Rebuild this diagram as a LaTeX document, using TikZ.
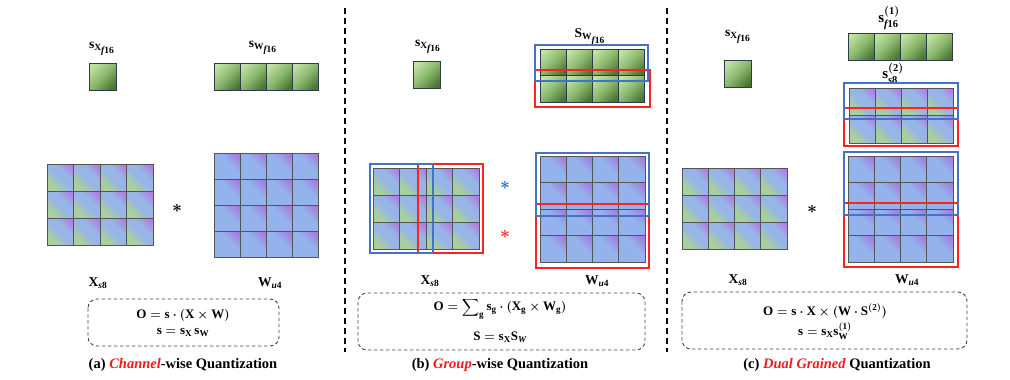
\documentclass[tikz,border=0pt]{standalone}
\usepackage{amsmath,bm}
\usepackage{fontspec}
\setmainfont{Liberation Serif}
\definecolor{gL}{HTML}{C2E2A8}
\definecolor{gM}{HTML}{8CB86E}
\definecolor{gD}{HTML}{4A7532}
\definecolor{xG}{HTML}{A9CF9C}
\definecolor{xB}{HTML}{97B5E6}
\definecolor{xP}{HTML}{B27CE6}
\definecolor{wB}{HTML}{94B2EC}
\definecolor{wP}{HTML}{A57BE0}
\definecolor{bdr}{HTML}{555555}
\definecolor{gbdr}{HTML}{2E3B49}
\definecolor{qblue}{HTML}{4472C4}
\definecolor{qred}{HTML}{FF2222}
\definecolor{boxc}{HTML}{3C4660}
\definecolor{capred}{HTML}{EE1C1C}
\definecolor{starblue}{HTML}{1F6FBF}
\pgfdeclarehorizontalshading{gshade}{100bp}{color(0bp)=(gL); color(22bp)=(gL); color(50bp)=(gM); color(78bp)=(gD); color(100bp)=(gD)}
\pgfdeclarehorizontalshading{xshade}{100bp}{color(0bp)=(xG); color(30bp)=(xG); color(48bp)=(xB); color(62bp)=(xB); color(80bp)=(xP); color(100bp)=(xP)}
\pgfdeclarehorizontalshading{wshade}{100bp}{color(0bp)=(wB); color(58bp)=(wB); color(80bp)=(wP); color(100bp)=(wP)}
\newcommand\B[1]{\text{\normalfont\bfseries #1}}
\newcommand\BI[1]{\text{\normalfont\bfseries\itshape #1}}
\newcommand\sub[1]{{\scriptstyle #1}}
\tikzset{
  gcell/.style={draw=gbdr,line width=0.9pt,shading=gshade,shading angle=-45},
  xcell/.style={draw=bdr,line width=0.9pt,shading=xshade,shading angle=45},
  wcell/.style={draw=bdr,line width=0.9pt,shading=wshade,shading angle=45},
  bluebox/.style={draw=qblue,line width=1.4pt},
  redbox/.style={draw=qred,line width=1.8pt},
  fbox/.style={draw=boxc,dashed,dash pattern=on 3.5pt off 2.5pt,line width=0.9pt,rounded corners=9pt},
  sep/.style={draw=black,line width=1.3pt,dash pattern=on 6pt off 4pt},
  lbl/.style={inner sep=0pt,font=\fontsize{13.5}{15}\selectfont\boldmath},
  biglbl/.style={inner sep=0pt,font=\fontsize{15}{17}\selectfont\boldmath},
  fml/.style={inner sep=0pt,align=center,font=\fontsize{13}{16}\selectfont\boldmath},
  captext/.style={inner sep=0pt,font=\fontsize{14.5}{17}\selectfont\bfseries},
  starlbl/.style={inner sep=0pt,font=\fontsize{18}{20}\selectfont\boldmath}
}
% #1 x0, #2 y0, #3 cols, #4 rows, #5 w, #6 h, #7 style
\newcommand\mgrid[7]{%
  \foreach \ii in {1,...,#3}{\foreach \jj in {1,...,#4}{%
    \path[#7] ({#1+(\ii-1)*#5},{#2+(\jj-1)*#6}) rectangle ++(#5,#6);
  }}}
\begin{document}
\begin{tikzpicture}[x=1pt,y=-1pt]
\useasboundingbox (0,0) rectangle (1010,380);
% separators
\coordinate (s1t) at (345,8); \coordinate (s1b) at (345,352);
\coordinate (s2t) at (667,8); \coordinate (s2b) at (667,352);
\draw[sep] (s1t) -- (s1b);
\draw[sep] (s2t) -- (s2b);

% ===== (a) =====
\node[lbl] (sxa) at (102,49) {$\B{s}_{\B{X}_{\sub{\BI{f}\B{16}}}}$};
\node[lbl] (swa) at (263,48) {$\B{s}_{\B{W}_{\sub{\BI{f}\B{16}}}}$};
\mgrid{89}{63}{1}{1}{27}{27}{gcell}
\mgrid{214}{63}{4}{1}{26}{27}{gcell}
\mgrid{47}{164}{4}{3}{26.5}{27.3}{xcell}
\node[starlbl] (stara) at (177,208) {$\ast$};
\mgrid{214}{153}{4}{4}{26}{26}{wcell}
\node[lbl] (xla) at (98,283) {$\B{X}_{\BI{s}\B{8}}$};
\node[lbl] (wla) at (270,283) {$\B{W}_{\BI{u}\B{4}}$};
\draw[fbox] (88,299) rectangle (279,346);
\node[fml] (fa) at (183,323) {$\B{O}=\B{s}\cdot(\B{X}\times\B{W})$\\[0pt]$\B{s}=\B{s}_{\B{X}}\,\B{s}_{\B{W}}$};
\node[captext] (capa) at (183,365) {(a) \textcolor{capred}{\itshape Channel}-wise Quantization};

% ===== (b) =====
\node[lbl] (sxb) at (428,47) {$\B{s}_{\B{X}_{\sub{\BI{f}\B{16}}}}$};
\node[lbl] (swb) at (590,37) {$\B{S}_{\B{W}_{\sub{\BI{f}\B{16}}}}$};
\mgrid{413}{61}{1}{1}{27}{27}{gcell}
\mgrid{540}{49}{4}{2}{26}{26.5}{gcell}
\draw[redbox] (535,70) rectangle (650,107);
\draw[bluebox] (535,45) rectangle (648,81);
\mgrid{373}{168}{4}{3}{26.5}{27.3}{xcell}
\draw[redbox] (418,164) rectangle (483,253);
\draw[bluebox] (370,164) rectangle (433,253);
\node[starlbl,text=starblue] (starb1) at (505,185) {$\ast$};
\node[starlbl,text=qred] (starb2) at (505,234) {$\ast$};
\mgrid{540}{156}{4}{4}{26.3}{26.5}{wcell}
\draw[redbox] (536,204) rectangle (649,268);
\draw[bluebox] (536,153) rectangle (649,216);
\node[lbl] (xlb) at (430,281) {$\B{X}_{\BI{s}\B{8}}$};
\node[lbl] (wlb) at (597,281) {$\B{W}_{\BI{u}\B{4}}$};
\draw[fbox] (358,293) rectangle (645,350);
\node[fml] (fb1) at (500,309) {$\B{O}=\displaystyle\sum\nolimits_{\B{g}}\B{s}_{\B{g}}\cdot(\B{X}_{\B{g}}\times\B{W}_{\B{g}})$};
\node[fml] (fb2) at (500,337) {$\B{S}=\B{s}_{\B{X}}\B{S}_{\BI{W}}$};
\node[captext] (capb) at (500,365) {(b) \textcolor{capred}{\itshape Group}-wise Quantization};

% ===== (c) =====
\node[lbl] (sxc) at (738,37) {$\B{s}_{\B{X}_{\sub{\BI{f}\B{16}}}}$};
\mgrid{724}{60}{1}{1}{27}{27}{gcell}
\node[biglbl] (s1c) at (889,18) {$\B{s}^{(\B{1})}_{\BI{f}\B{16}}$};
\mgrid{848}{33}{4}{1}{26.2}{27}{gcell}
\node[biglbl] (s2c) at (893,73) {$\B{s}^{(\B{2})}_{\BI{s}\B{8}}$};
\mgrid{849}{88}{4}{2}{26.2}{27.5}{xcell}
\draw[redbox] (844,108) rectangle (958,146);
\draw[bluebox] (844,83) rectangle (958,119);
\mgrid{682}{168}{4}{3}{26.3}{27}{xcell}
\node[starlbl] (starc) at (812,209) {$\ast$};
\mgrid{848}{156}{4}{4}{26.3}{26.5}{wcell}
\draw[redbox] (844,203) rectangle (958,267);
\draw[bluebox] (844,152) rectangle (958,215);
\node[lbl] (xlc) at (738,280) {$\B{X}_{\BI{s}\B{8}}$};
\node[lbl] (wlc) at (907,280) {$\B{W}_{\BI{u}\B{4}}$};
\draw[fbox] (682,292) rectangle (967,349);
\node[fml] (fc1) at (825,311) {$\B{O}=\B{s}\cdot\B{X}\times(\B{W}\cdot\B{S}^{(\B{2})})$};
\node[fml] (fc2) at (825,331) {$\B{s}=\B{s}_{\B{X}}\B{s}^{(\B{1})}_{\B{W}}$};
\node[captext] (capc) at (837,365) {(c) \textcolor{capred}{\itshape Dual Grained} Quantization};
\end{tikzpicture}
\end{document}
